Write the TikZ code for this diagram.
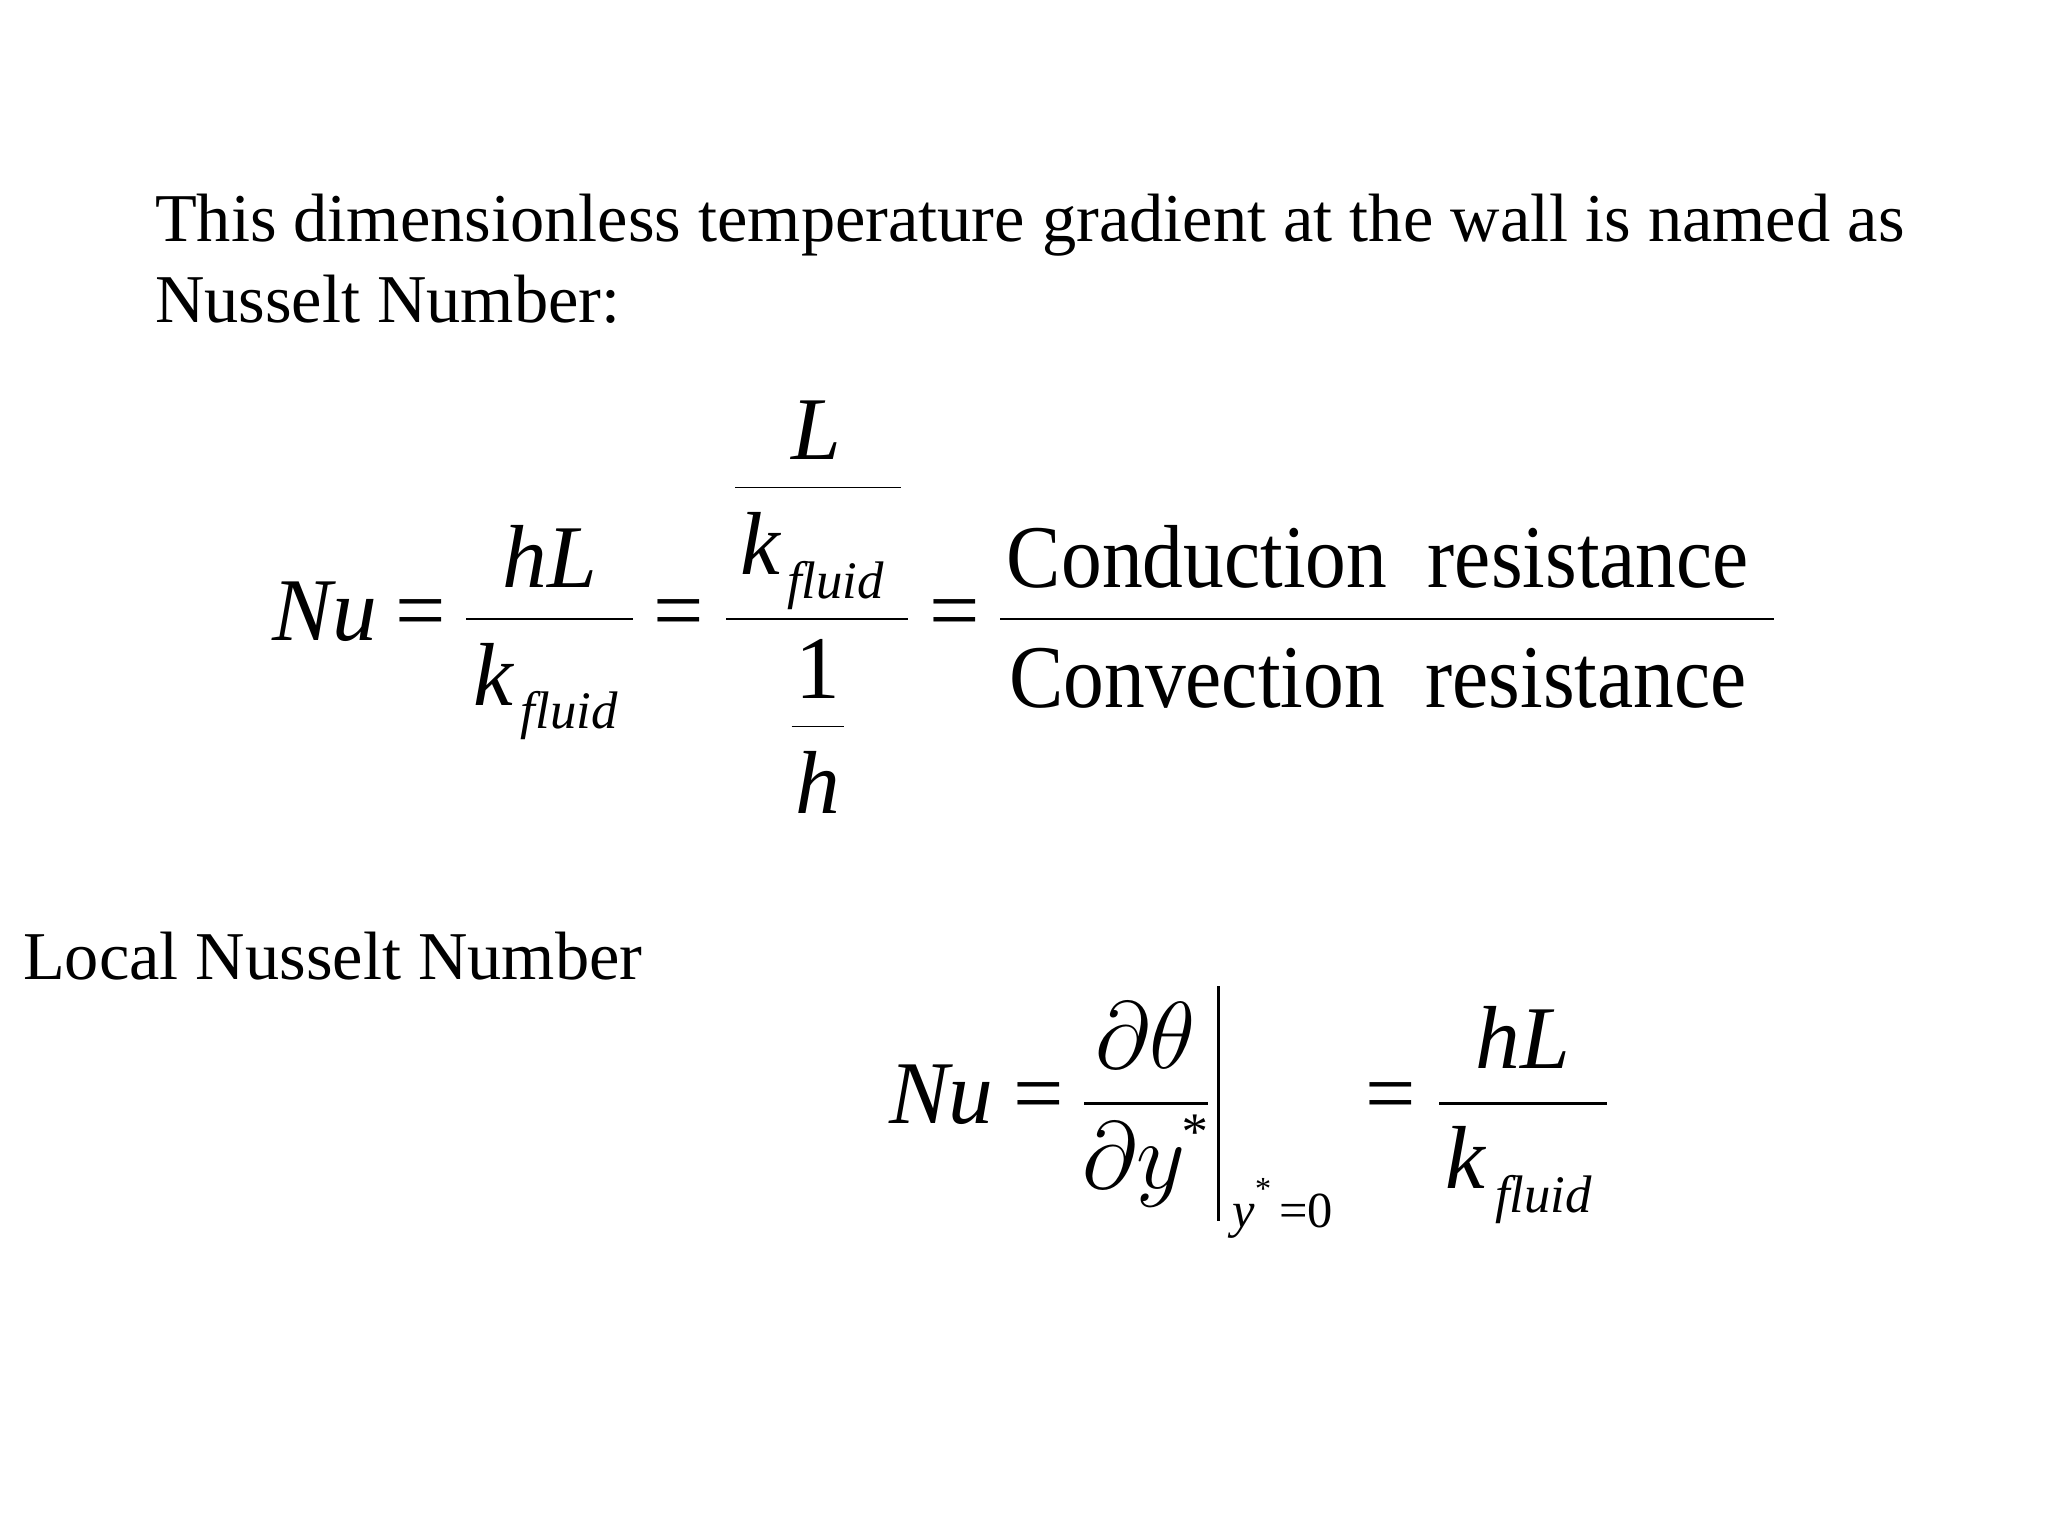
\documentclass[tikz,border=0pt]{standalone}
\usepackage{fontspec}
\setmainfont{Liberation Serif}
\begin{document}
\begin{tikzpicture}[x=0.1mm,y=-0.1mm,
  txt/.style={anchor=base west,inner sep=0,font=\fontsize{14.9}{17}\selectfont},
  big/.style={anchor=base,inner sep=0,font=\fontsize{19.5}{22}\selectfont\itshape},
  bigw/.style={anchor=base west,inner sep=0,font=\fontsize{19.5}{22}\selectfont\itshape},
  up/.style={anchor=base,inner sep=0,font=\fontsize{19.5}{22}\selectfont},
  sub/.style={anchor=base west,inner sep=0,font=\fontsize{11.5}{13}\selectfont\itshape},
  bar/.style={line width=0.2mm}]
\useasboundingbox (0,0) rectangle (1568,1176);
\node[txt] (t1) at (118,185) {This dimensionless temperature gradient at the wall is named as};
\node[txt] (t2) at (118,247) {Nusselt Number:};
% eq 1
\node[bigw] (nu1) at (208,490) {Nu};
\node[up] (e1) at (322,490) {=};
\draw[bar] (357,474) -- (485,474);
\node[big] (hl1) at (421,450) {hL};
\node[bigw] (k1) at (362,540) {k};
\node[sub] (f1) at (398,558) {fluid};
\node[up] (e2) at (520,490) {=};
\draw[bar] (556,474) -- (695,474);
\node[big] (L) at (625,352) {L};
\draw[line width=0.1mm] (563,373) -- (690,373);
\node[bigw] (k2) at (566,440) {k};
\node[sub] (f2) at (602,458) {fluid};
\node[up] (one) at (626,535) {1};
\draw[line width=0.1mm] (606,556) -- (646,556);
\node[big] (h) at (626,623) {h};
\node[up] (e3) at (731,490) {=};
\draw[bar] (766,474) -- (1358,474);
\node[up] (cond) at (1055,450) {\scalebox{0.91}[1]{Conduction\ \ resistance}};
\node[up] (conv) at (1055,542) {\scalebox{0.91}[1]{Convection\ \ resistance}};
% local
\node[txt] (loc) at (17,750) {Local Nusselt Number};
\node[bigw] (nu2) at (680,860) {Nu};
\node[up] (e4) at (795,860) {=};
\draw[bar] (830,845) -- (925,845);
\node[big] (dt) at (877,818) {$\partial\theta$};
\node[big] (dy) at (868,910) {$\partial y$};
\node[sub] (st) at (902,880) {*};
\draw[bar] (933,755) -- (933,935);
\node[anchor=base west,inner sep=0,font=\fontsize{11}{13}\selectfont] (cond0) at (943,940) {\textit{y}\raisebox{1.2ex}{\scriptsize *}\,=0};
\node[up] (e5) at (1065,860) {=};
\draw[bar] (1102,845) -- (1230,845);
\node[big] (hl2) at (1166,818) {hL};
\node[bigw] (k3) at (1106,910) {k};
\node[sub] (f3) at (1144,928) {fluid};
\end{tikzpicture}
\end{document}
